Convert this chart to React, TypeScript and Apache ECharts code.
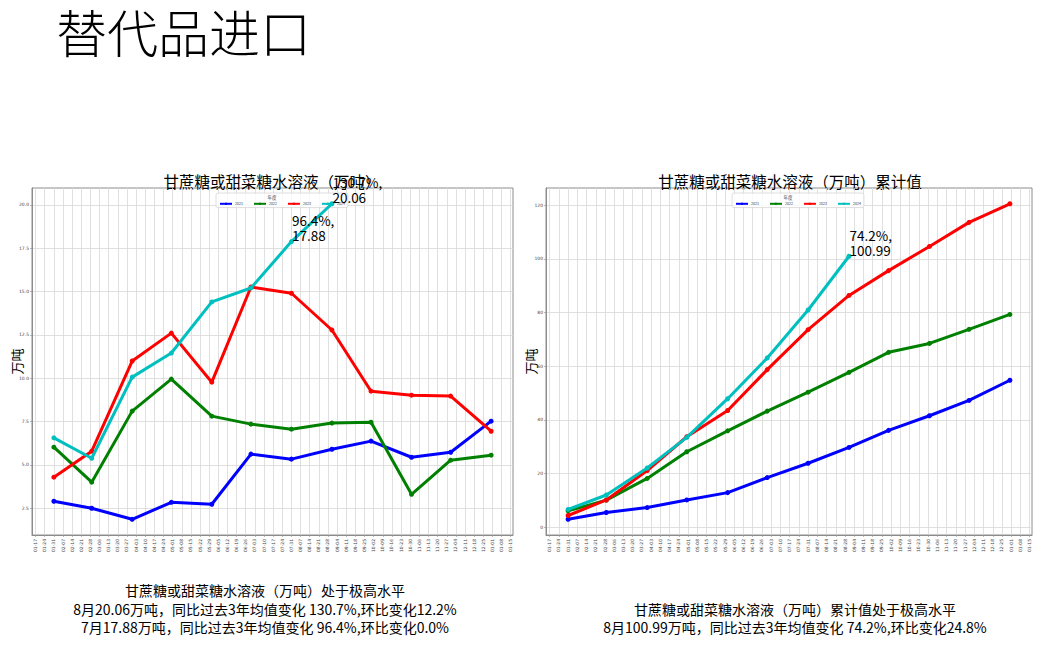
import React, { useEffect, useRef } from "react";
import * as echarts from "echarts";

const years = ["2021", "2022", "2023", "2024"];
const lineColors = ["#0000ff", "#008000", "#ff0000", "#00bfbf"];

// data point dates (month ends, leap-year calendar as on the axis)
const monthEnds = ["01-31", "02-29", "03-31", "04-30", "05-31", "06-30", "07-31", "08-31", "09-30", "10-31", "11-30", "12-31"];

// weekly tick labels of the x axis
const weekTicks = [
  "01-17", "01-24", "01-31", "02-07", "02-14", "02-21", "02-28",
  "03-06", "03-13", "03-20", "03-27", "04-03", "04-10", "04-17", "04-24",
  "05-01", "05-08", "05-15", "05-22", "05-29", "06-05", "06-12", "06-19", "06-26",
  "07-03", "07-10", "07-17", "07-24", "07-31", "08-07", "08-14", "08-21", "08-28",
  "09-04", "09-11", "09-18", "09-25", "10-02", "10-09", "10-16", "10-23", "10-30",
  "11-06", "11-13", "11-20", "11-27", "12-04", "12-11", "12-18", "12-25",
  "01-01", "01-08", "01-15",
];

const leftYTicks = [2.5, 5.0, 7.5, 10.0, 12.5, 15.0, 17.5, 20.0];
const rightYTicks = [0, 20, 40, 60, 80, 100, 120];

// monthly values (万吨)
const monthly2021 = [2.90, 2.50, 1.86, 2.84, 2.73, 5.62, 5.33, 5.90, 6.37, 5.44, 5.73, 7.52];
const monthly2022 = [6.02, 4.00, 8.10, 9.95, 7.81, 7.35, 7.06, 7.41, 7.46, 3.30, 5.27, 5.56];
const monthly2023 = [4.29, 5.79, 10.99, 12.60, 9.77, 15.26, 14.90, 12.78, 9.25, 9.02, 8.97, 6.94];
const monthly2024 = [6.56, 5.38, 10.06, 11.45, 14.40, 15.20, 17.88, 20.06];

// cumulative values (万吨)
const cumulative2021 = [2.90, 5.40, 7.26, 10.10, 12.83, 18.45, 23.78, 29.68, 36.05, 41.49, 47.22, 54.74];
const cumulative2022 = [6.02, 10.02, 18.12, 28.07, 35.88, 43.23, 50.29, 57.70, 65.16, 68.46, 73.73, 79.29];
const cumulative2023 = [4.29, 10.08, 21.07, 33.67, 43.44, 58.70, 73.60, 86.38, 95.63, 104.65, 113.62, 120.56];
const cumulative2024 = [6.56, 11.94, 22.00, 33.45, 47.85, 63.05, 80.93, 100.99];

// annotations on the 2024 lines: [month index, text]
const leftNotes: [number, string][] = [
  [6, "96.4%,\n17.88"],
  [7, "130.7%,\n20.06"],
];
const rightNotes: [number, string][] = [[7, "74.2%,\n100.99"]];

const pageTitle = "替代品进口";
const leftTitle = "甘蔗糖或甜菜糖水溶液（万吨）";
const rightTitle = "甘蔗糖或甜菜糖水溶液（万吨）累计值";
const legendTitle = "年度";
const yName = "万吨";
const leftNotesText = [
  "甘蔗糖或甜菜糖水溶液（万吨）处于极高水平",
  "8月20.06万吨，同比过去3年均值变化 130.7%,环比变化12.2%",
  "7月17.88万吨，同比过去3年均值变化 96.4%,环比变化0.0%",
];
const rightNotesText = [
  "甘蔗糖或甜菜糖水溶液（万吨）累计值处于极高水平",
  "8月100.99万吨，同比过去3年均值变化 74.2%,环比变化24.8%",
];

const CJK = '"Noto Sans CJK SC", "Noto Sans", sans-serif';
const LAT = '"DejaVu Sans", sans-serif';

const monthDays = [31, 29, 31, 30, 31, 30, 31, 31, 30, 31, 30, 31];
function dayOf(s: string): number {
  const [m, d] = s.split("-").map(Number);
  let n = 0;
  for (let i = 0; i < m - 1; i++) n += monthDays[i];
  return n + d - 1;
}
const tickDays: number[] = [];
weekTicks.forEach((t, i) => {
  let d = dayOf(t);
  if (i > 0 && d < tickDays[i - 1]) d += 366;
  tickDays.push(d);
});
const tickLabelMap: Record<number, string> = {};
tickDays.forEach((d, i) => (tickLabelMap[d] = weekTicks[i]));
const pointDays = monthEnds.map(dayOf);
const xMin = pointDays[0] - 0.05 * (pointDays[11] - pointDays[0]);
const xMax = pointDays[11] + 0.05 * (pointDays[11] - pointDays[0]);

function makeSeries(
  arrs: number[][],
  axisIndex: number,
  notes: [number, string][]
) {
  return arrs.map((arr, si) => ({
    name: years[si],
    type: "line",
    xAxisIndex: axisIndex,
    yAxisIndex: axisIndex,
    symbol: "circle",
    symbolSize: 5,
    showSymbol: true,
    lineStyle: { width: 3, color: lineColors[si], join: "round" },
    itemStyle: { color: lineColors[si], borderWidth: 0 },
    emphasis: { disabled: true },
    z: 3 + si,
    data: arr.map((v, i) => {
      const note = si === 3 ? notes.find((n) => n[0] === i) : undefined;
      if (!note) return [pointDays[i], v];
      return {
        value: [pointDays[i], v],
        label: {
          show: true,
          formatter: note[1],
          position: "right",
          distance: 0,
          offset: [-2, 1],
          align: "left",
          verticalAlign: "bottom",
          fontSize: 13.5,
          lineHeight: 15,
          color: "#000",
          fontFamily: CJK,
        },
      };
    }),
  }));
}

function xAxisCfg(gridIndex: number) {
  return {
    type: "value",
    gridIndex,
    min: xMin,
    max: xMax,
    axisLine: { show: true, onZero: false, lineStyle: { color: "#8c8c8c", width: 1 } },
    axisTick: { show: true, length: 2, customValues: tickDays, lineStyle: { color: "#8c8c8c", width: 0.6 } },
    axisLabel: {
      customValues: tickDays,
      rotate: 90,
      fontSize: 4.5,
      color: "#444",
      fontFamily: LAT,
      margin: 4,
      formatter: (v: number) => tickLabelMap[Math.round(v)] ?? "",
    },
    splitLine: { show: true, lineStyle: { color: "#d8d8d8", width: 0.8 } },
  };
}

function yAxisCfg(gridIndex: number, min: number, max: number, ticks: number[], dec: number) {
  return {
    type: "value",
    gridIndex,
    min,
    max,
    name: yName,
    nameLocation: "middle",
    nameGap: 9,
    nameMoveOverlap: false,
    nameRotate: 90,
    nameTextStyle: { fontSize: 13, color: "#000", fontFamily: CJK },
    axisLine: { show: true, lineStyle: { color: "#8c8c8c", width: 1 } },
    axisTick: { show: true, length: 2, customValues: ticks, lineStyle: { color: "#8c8c8c", width: 0.6 } },
    axisLabel: {
      customValues: ticks,
      fontSize: 4.5,
      color: "#444",
      fontFamily: LAT,
      margin: 3,
      formatter: (v: number) => v.toFixed(dec),
    },
    splitLine: { show: true, lineStyle: { color: "#d8d8d8", width: 0.8 } },
  };
}

function legendCfg(left: number) {
  return {
    data: years,
    left,
    top: 193,
    orient: "horizontal",
    itemWidth: 12,
    itemHeight: 3,
    itemGap: 10,
    padding: [9, 3, 2, 3],
    borderColor: "#d6d6d6",
    borderWidth: 0.8,
    borderRadius: 2,
    backgroundColor: "rgba(255,255,255,0.8)",
    selectedMode: false,
    textStyle: { fontSize: 3.6, color: "#333", fontFamily: CJK, padding: [0, 0, 0, -2] },
  };
}

export default function App() {
  const ref = useRef<HTMLDivElement>(null);
  useEffect(() => {
    if (!ref.current) return;
    const chart = echarts.init(ref.current, undefined, { renderer: "svg" });
    const textEl = (x: number, y: number, text: string, size: number, align = "center", weight: any = "normal") => ({
      type: "text",
      x,
      y,
      style: {
        text,
        fontSize: size,
        fontFamily: CJK,
        fontWeight: weight,
        fill: "#000",
        align,
        verticalAlign: "middle",
      },
    });
    chart.setOption({
      animation: false,
      backgroundColor: "#ffffff",
      grid: [
        { show: true, borderColor: "#8c8c8c", borderWidth: 1, left: 32, right: 1041 - 513, top: 188, bottom: 659 - 535, containLabel: false },
        { show: true, borderColor: "#8c8c8c", borderWidth: 1, left: 546, right: 1041 - 1032, top: 188, bottom: 659 - 535, containLabel: false },
      ],
      xAxis: [xAxisCfg(0), xAxisCfg(1)],
      yAxis: [
        yAxisCfg(0, 0.955, 20.97, leftYTicks, 1),
        yAxisCfg(1, -2.98, 126.44, rightYTicks, 0),
      ],
      legend: [legendCfg(216), legendCfg(732)],
      series: [
        ...makeSeries([monthly2021, monthly2022, monthly2023, monthly2024], 0, leftNotes),
        ...makeSeries([cumulative2021, cumulative2022, cumulative2023, cumulative2024], 1, rightNotes),
      ],
      graphic: [
        textEl(56, 31, pageTitle, 51, "left", 300),
        textEl(272, 181, leftTitle, 15.5),
        textEl(790, 181, rightTitle, 15.5),
        { type: "text", x: 272, y: 197, z: 100, style: { text: legendTitle, fontSize: 4.5, fontFamily: CJK, fill: "#333", align: "center", verticalAlign: "middle" } },
        { type: "text", x: 788, y: 197, z: 100, style: { text: legendTitle, fontSize: 4.5, fontFamily: CJK, fill: "#333", align: "center", verticalAlign: "middle" } },
        textEl(265, 590, leftNotesText[0], 14),
        textEl(265, 608.5, leftNotesText[1], 14),
        textEl(265, 627, leftNotesText[2], 14),
        textEl(795, 608.5, rightNotesText[0], 14),
        textEl(795, 627, rightNotesText[1], 14),
      ],
    });
    return () => chart.dispose();
  }, []);
  return (
    <div
      ref={ref}
      style={{ position: "fixed", left: 0, top: 0, width: 1041, height: 659, background: "#fff" }}
    />
  );
}
